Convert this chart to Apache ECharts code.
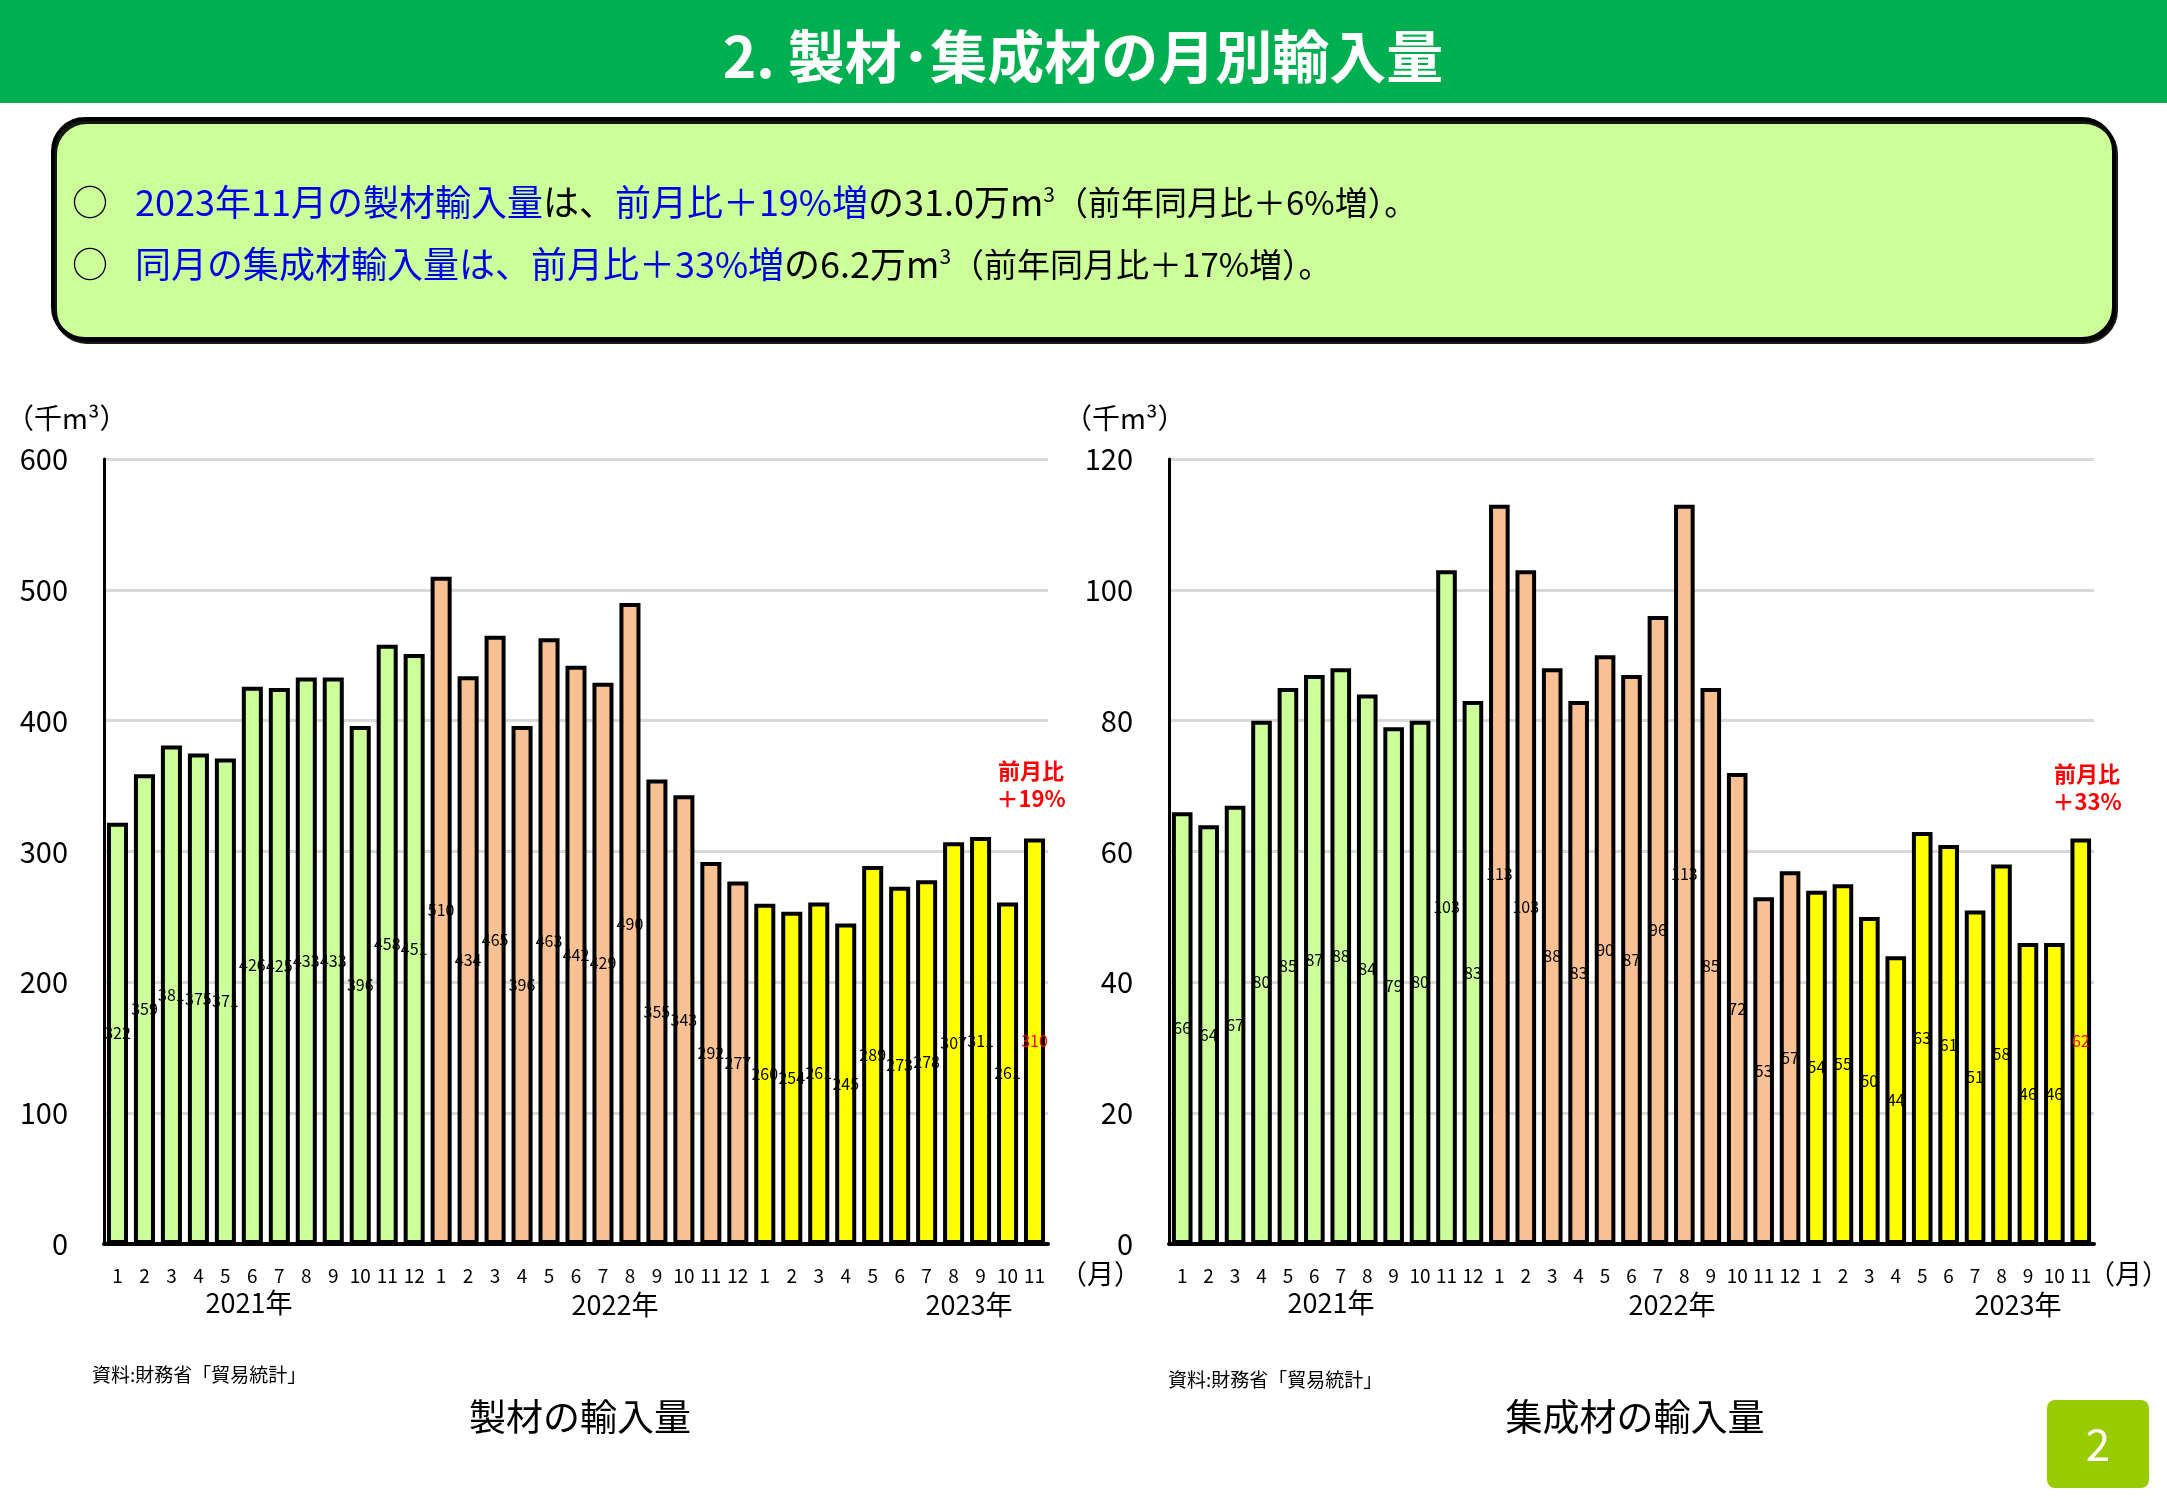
<!DOCTYPE html>
<html>
<head>
<meta charset="utf-8">
<script src="https://cdn.jsdelivr.net/npm/echarts@6/dist/echarts.min.js"></script>
<style>
html,body{margin:0;padding:0;background:#fff;}
#c{width:2167px;height:1500px;}
</style>
</head>
<body>
<div id="c"></div>
<script>
// ---- data ----
const months = ['1','2','3','4','5','6','7','8','9','10','11','12',
                '1','2','3','4','5','6','7','8','9','10','11','12',
                '1','2','3','4','5','6','7','8','9','10','11'];
const lumber2021 = [322,359,381,375,371,426,425,433,433,396,458,451];
const lumber2022 = [510,434,465,396,463,442,429,490,355,343,292,277];
const lumber2023 = [260,254,261,245,289,273,278,307,311,261,310];
const glulam2021 = [66,64,67,80,85,87,88,84,79,80,103,83];
const glulam2022 = [113,103,88,83,90,87,96,113,85,72,53,57];
const glulam2023 = [54,55,50,44,63,61,51,58,46,46,62];
const lumberTicks = [0,100,200,300,400,500,600];
const glulamTicks = [0,20,40,60,80,100,120];

const FONT = '"Noto Sans CJK JP", "Noto Sans", sans-serif';
const C2021 = '#CCFF99', C2022 = '#F8C193', C2023 = '#FFFF00';

function buildData(a, b, c) {
  const out = [];
  const all = [[a, C2021], [b, C2022], [c, C2023]];
  all.forEach(([arr, col], gi) => {
    arr.forEach((v, i) => {
      const last = gi === 2 && i === arr.length - 1;
      out.push({
        value: v,
        itemStyle: { color: col },
        label: last ? { color: '#FF0000' } : undefined
      });
    });
  });
  return out;
}

const chart = echarts.init(document.getElementById('c'));

function yAxisFor(gridIndex, ticks) {
  return {
    type: 'value', gridIndex: gridIndex,
    min: ticks[0], max: ticks[ticks.length - 1], interval: ticks[1] - ticks[0],
    axisLine: { show: true, lineStyle: { color: '#000', width: 3 } },
    axisTick: { show: false },
    axisLabel: { color: '#000', fontSize: 29, fontFamily: FONT, margin: 36 },
    splitLine: { show: true, lineStyle: { color: '#D9D9D9', width: 3 } }
  };
}
function xAxisFor(gridIndex) {
  return {
    type: 'category', gridIndex: gridIndex, data: months,
    axisLine: { show: true, lineStyle: { color: '#000', width: 4 } },
    axisTick: { show: false },
    axisLabel: { interval: 0, color: '#000', fontSize: 19, fontFamily: FONT, margin: 22 }
  };
}
function barSeries(idx, data) {
  return {
    type: 'bar', xAxisIndex: idx, yAxisIndex: idx, data: data,
    barCategoryGap: '22%',
    itemStyle: { borderColor: '#000', borderWidth: 4 },
    label: {
      show: true, position: 'inside', color: '#000', fontSize: 16, fontFamily: FONT,
      formatter: p => String(Math.round(p.value))
    },
    silent: true
  };
}

const T = (txt, x, y, size, opts) => ({
  type: 'text', x: x, y: y,
  style: Object.assign({ text: txt, fontSize: size, fontFamily: FONT, fill: '#000',
    textAlign: 'left', textVerticalAlign: 'middle' }, (opts || {}))
});

const blue = '#0000E6';
const rich = {
  b: { fontSize: 36, fontFamily: FONT, fill: blue, color: blue },
  k: { fontSize: 36, fontFamily: FONT, fill: '#000', color: '#000' },
  ks: { fontSize: 33, fontFamily: FONT, fill: '#000', color: '#000' },
  sup: { fontSize: 21, fontFamily: FONT, fill: '#000', color: '#000', verticalAlign: 'top' }
};

const graphics = [
  { type: 'rect', shape: { x: 0, y: 0, width: 2167, height: 103 }, style: { fill: '#00B050' } },
  T('2. 製材･集成材の月別輸入量', 1083, 56, 57, { fill: '#fff', fontWeight: 'bold', textAlign: 'center' }),
  { type: 'rect', shape: { x: 53, y: 119, width: 2061, height: 220, r: 32 },
    style: { fill: '#CCFF99', stroke: '#000', lineWidth: 4,
      shadowColor: 'rgba(0,0,0,0.9)', shadowOffsetX: 2, shadowOffsetY: 3, shadowBlur: 0 } },
  T('○', 72, 202, 36),
  T('○', 72, 264, 36),
  { type: 'text', x: 135, y: 202, style: {
      text: '{b|2023年11月の製材輸入量}{k|は、}{b|前月比＋19%増}{k|の31.0万m}{sup|3}{ks|（前年同月比＋6%増）。}',
      rich: rich, textVerticalAlign: 'middle', fontFamily: FONT } },
  { type: 'text', x: 135, y: 264, style: {
      text: '{b|同月の集成材輸入量は、前月比＋33%増}{k|の6.2万m}{sup|3}{ks|（前年同月比＋17%増）。}',
      rich: rich, textVerticalAlign: 'middle', fontFamily: FONT } },

  // unit labels
  T('（千m³）', 6, 418, 28),
  T('（千m³）', 1064, 418, 28),
  // year labels & (月)
  T('2021年', 249, 1303, 27, { textAlign: 'center' }),
  T('2022年', 615, 1305, 27, { textAlign: 'center' }),
  T('2023年', 969, 1305, 27, { textAlign: 'center' }),
  T('（月）', 1060, 1274, 27),
  T('2021年', 1331, 1303, 27, { textAlign: 'center' }),
  T('2022年', 1672, 1305, 27, { textAlign: 'center' }),
  T('2023年', 2018, 1305, 27, { textAlign: 'center' }),
  T('（月）', 2088, 1274, 27),
  // annotations
  T('前月比\n＋19%', 1031, 785, 22, { fill: '#FF0000', fontWeight: 'bold', textAlign: 'center', lineHeight: 28 }),
  T('前月比\n＋33%', 2087, 788, 22, { fill: '#FF0000', fontWeight: 'bold', textAlign: 'center', lineHeight: 28 }),
  // sources and captions
  T('資料:財務省「貿易統計」', 92, 1375, 19),
  T('資料:財務省「貿易統計」', 1168, 1380, 19),
  T('製材の輸入量', 580, 1417, 37, { textAlign: 'center' }),
  T('集成材の輸入量', 1635, 1417, 37, { textAlign: 'center' }),
  // page number
  { type: 'rect', shape: { x: 2047, y: 1400, width: 102, height: 88, r: 8 }, style: { fill: '#99CC00' } },
  T('2', 2098, 1444, 44, { fill: '#fff', textAlign: 'center' })
];

chart.setOption({
  animation: false,
  backgroundColor: '#fff',
  grid: [
    { left: 104, right: 2167 - 1048, top: 459, bottom: 1500 - 1244, containLabel: false },
    { left: 1169, right: 2167 - 2094, top: 459, bottom: 1500 - 1244, containLabel: false }
  ],
  xAxis: [xAxisFor(0), xAxisFor(1)],
  yAxis: [yAxisFor(0, lumberTicks), yAxisFor(1, glulamTicks)],
  series: [
    barSeries(0, buildData(lumber2021, lumber2022, lumber2023)),
    barSeries(1, buildData(glulam2021, glulam2022, glulam2023))
  ],
  graphic: graphics
});
</script>
</body>
</html>
